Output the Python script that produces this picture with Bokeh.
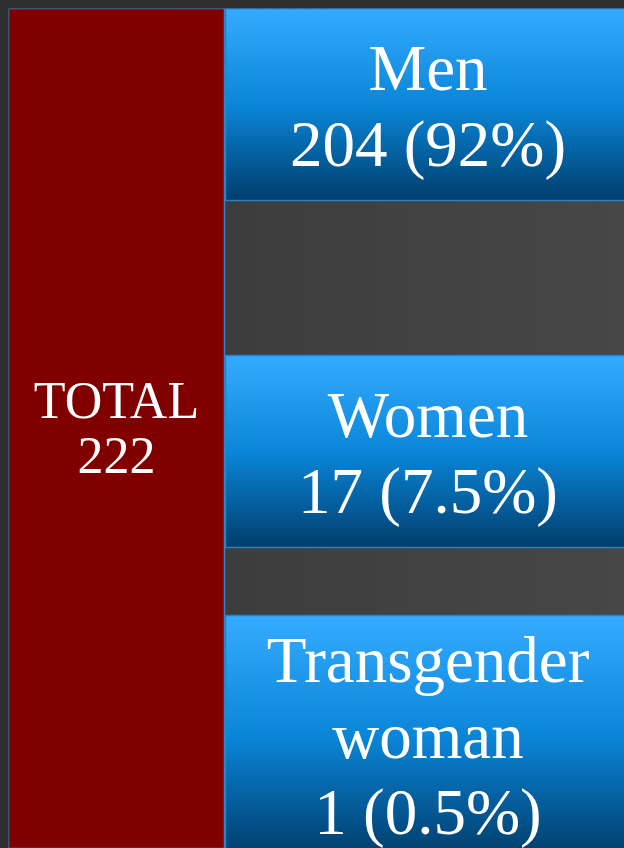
import numpy as np
from bokeh.plotting import figure
from bokeh.models import Range1d, GlobalInlineStyleSheet
from bokeh.core.properties import value
from bokeh.embed import file_html
from bokeh.resources import INLINE

# ---- data ----
total_label = "TOTAL"
total_value = 222
categories = ["Men", "Women", "Transgender woman"]
category_lines = [["Men"], ["Women"], ["Transgender", "woman"]]
counts = [204, 17, 1]
percents = ["92%", "7.5%", "0.5%"]

# ---- layout (figure pixel units, y downward) ----
W, H = 616, 840
red_box = (0, 216, 0, 840)                 # left, right, top, bottom
blue_left, blue_right = 217, 622
blue_spans = [(0, 192), (347, 539), (607, 846)]

def hex2rgb(h):
    h = h.lstrip("#")
    return np.array([int(h[i:i + 2], 16) for i in (0, 2, 4)], dtype=float)

def rgb2hex(c):
    return "#%02x%02x%02x" % tuple(int(round(v)) for v in c)

def grad(stops, t):
    pos = [s[0] for s in stops]
    cols = [hex2rgb(s[1]) for s in stops]
    out = np.zeros(3)
    for k in range(3):
        out[k] = np.interp(t, pos, [c[k] for c in cols])
    return rgb2hex(out)

p = figure(width=W, height=H, output_backend="svg", toolbar_location=None,
           x_range=Range1d(0, W), y_range=Range1d(H, 0),
           min_border=0, background_fill_color="#3d3d3d",
           border_fill_color="#2f2f2f", outline_line_color=None)
p.axis.visible = False
p.grid.visible = False
p.stylesheets = [GlobalInlineStyleSheet(
    css="html,body{background:#2f2f2f;overflow:hidden;} body{margin:8px 0 0 8px;}")]

# background: subtle horizontal gradient
nb = 40
bx = np.linspace(0, W, nb + 1)
bg_cols = [grad([(0, "#373737"), (1, "#474747")], (i + 0.5) / nb) for i in range(nb)]
p.quad(left=bx[:-1], right=bx[1:] + 1.5, top=[0] * nb, bottom=[H] * nb,
       fill_color=bg_cols, line_color=None)

# red total column
p.quad(left=[red_box[0]], right=[red_box[1]], top=[red_box[2]], bottom=[red_box[3]],
       fill_color="#800000", line_color="#2f86d0", line_width=1.5)

# blue category boxes with vertical gradient
stops = [(0.0, "#35abff"), (0.5, "#0a86d9"), (1.0, "#003e6c")]
ns = 60
for (t0, t1) in blue_spans:
    ys = np.linspace(t0, t1, ns + 1)
    cols = [grad(stops, (i + 0.5) / ns) for i in range(ns)]
    bots = np.minimum(ys[1:] + 1.5, t1)
    p.quad(left=[blue_left] * ns, right=[blue_right] * ns, top=ys[:-1], bottom=bots,
           fill_color=cols, line_color=None)
    p.quad(left=[blue_left], right=[blue_right], top=[t0], bottom=[t1],
           fill_color=None, line_color="#2b80c6", line_width=1.5)

# texts
txt_x, txt_y, txt_s = [], [], []
cx = (blue_left + blue_right) / 2
line_h, base_k = 76, 1
for lines, n, pc, (t0, t1) in zip(category_lines, counts, percents, blue_spans):
    all_lines = lines + [f"{n} ({pc})"]
    c = (t0 + t1) / 2
    m = len(all_lines)
    for i, s in enumerate(all_lines):
        txt_x.append(cx)
        txt_y.append(c + (i - (m - 1) / 2) * line_h + base_k)
        txt_s.append(s)
p.text(x=txt_x, y=txt_y, text=txt_s, text_align="center", text_baseline="alphabetic",
       text_color="white", text_font=value("Liberation Serif"), text_font_size="65px")

rc = (red_box[2] + red_box[3]) / 2
rx = (red_box[0] + red_box[1]) / 2
tot_lines = [total_label, str(total_value)]
p.text(x=[rx, rx], y=[rc + (i - 0.5) * 55 - 1 for i in range(2)], text=tot_lines,
       text_align="center", text_baseline="alphabetic", text_color="white",
       text_font=value("Liberation Serif"), text_font_size="52px")

open("out.html", "w").write(file_html(p, INLINE))
